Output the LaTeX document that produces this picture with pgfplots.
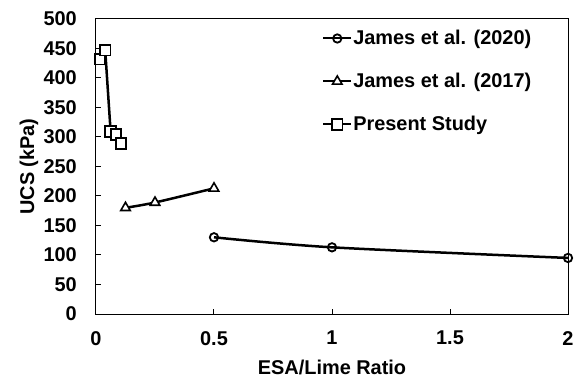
\documentclass[border=0pt]{standalone}
\usepackage{fontspec}
\setmainfont{Liberation Sans}
\usepackage{pgfplots}
\pgfplotsset{compat=1.18}
\begin{document}
\begin{tikzpicture}[x=1bp,y=1bp]
\begin{axis}[
  at={(0,0)}, anchor=south west,
  scale only axis, width=472bp, height=295bp,
  xmin=0, xmax=2, ymin=0, ymax=500,
  xtick={0,0.5,1,1.5,2}, ytick={0,50,...,500},
  xticklabels={0,0.5,1,1.5,2},
  tick align=inside, xtick pos=bottom, ytick pos=left,
  major tick length=5bp,
  axis line style={line width=1bp},
  every tick/.style={black, line width=1bp},
  font=\fontsize{20}{24}\selectfont\bfseries,
  /pgf/number format/assume math mode=true,
  yticklabel style={inner sep=0pt, xshift=-19bp},
  xticklabel style={inner sep=0pt, yshift=-17bp},
  xlabel={ESA/Lime Ratio}, ylabel={UCS (kPa)},
  xlabel style={inner sep=0pt, yshift=-15bp},
  ylabel style={inner sep=0pt, yshift=5bp},
  legend style={draw=none, fill=none, at={(0.479,0.965)}, anchor=north west,
    font=\fontsize{20}{24}\selectfont\bfseries, row sep=25bp, inner sep=0pt,
    nodes={inner sep=1bp}},
  legend cell align=left,
  legend image code/.code={\draw[mark repeat=2,mark phase=2,#1,line width=2bp] plot coordinates {(0bp,0bp) (14bp,0bp) (28bp,0bp)};},
]
\addplot[black, line width=2.5bp, smooth, mark=o, mark size=4.2bp, mark options={fill=white, line width=1.8bp}]
  coordinates {(0.5,130) (1,113) (2,95)};
\addlegendentry{James et al. (2020)}
\addplot[black, line width=2.5bp, smooth, mark=triangle*, mark size=5.5bp, mark options={fill=white, line width=1.6bp}]
  coordinates {(0.125,180) (0.25,189) (0.5,213)};
\addlegendentry{James et al. (2017)}
\addplot[black, line width=2.5bp, mark=square*, mark size=5.3bp, mark options={fill=white, line width=1.8bp}]
  coordinates {(0.017,432) (0.039,447) (0.062,309) (0.085,304) (0.106,289)};
\addlegendentry{Present Study}
\end{axis}
\pgfresetboundingbox
\useasboundingbox (-96bp,-66bp) rectangle (483bp,314bp);
\end{tikzpicture}
\end{document}
